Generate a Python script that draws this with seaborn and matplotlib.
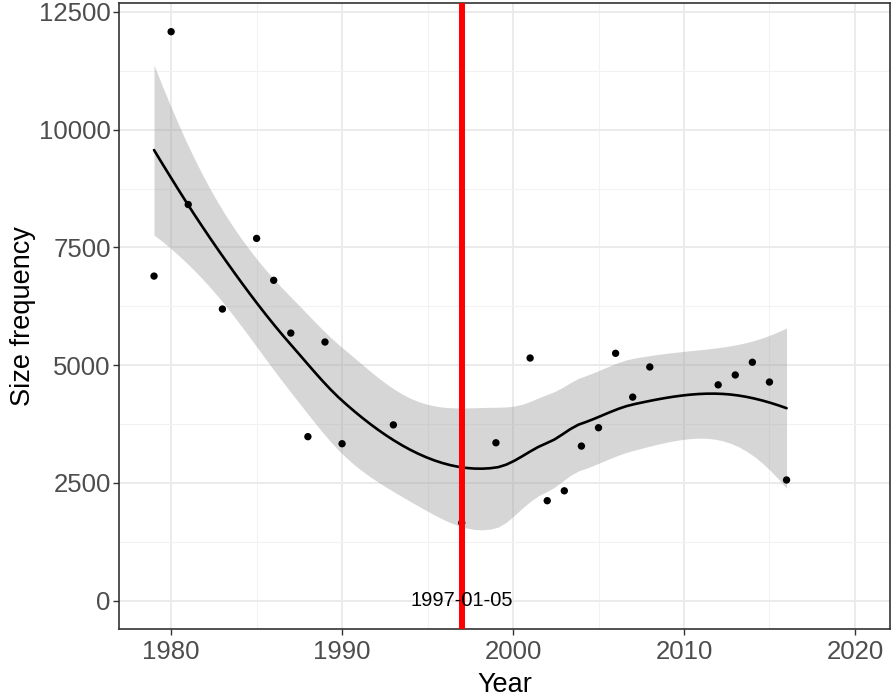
import numpy as np
import pandas as pd
import matplotlib
matplotlib.use("Agg")
import matplotlib.pyplot as plt
import seaborn as sns

# data
years = [1979, 1980, 1981, 1983, 1985, 1986, 1987, 1988, 1989, 1990, 1993, 1997,
         1999, 2001, 2002, 2003, 2004, 2005, 2006, 2007, 2008, 2012, 2013, 2014,
         2015, 2016]
size_freq = [6890, 12080, 8410, 6190, 7690, 6800, 5680, 3480, 5490, 3330, 3730, 1650,
             3350, 5150, 2120, 2330, 3280, 3670, 5250, 4320, 4960, 4580, 4790, 5060,
             4640, 2560]
event_year = 1997.0
event_label = "1997-01-05"
x_ticks = [1980, 1990, 2000, 2010, 2020]
y_ticks = [0, 2500, 5000, 7500, 10000, 12500]

df = pd.DataFrame({"Year": years, "Size frequency": size_freq})


# --- loess smoother (span .75, degree 2, kd-tree vertices + cubic interpolation, like R) ---
def local_rows(x, x0, span=0.75):
    n = len(x)
    q = int(np.floor(n * span))
    val, slope = [], []
    for xv in x0:
        d = np.abs(x - xv)
        h = np.sort(d)[q - 1]
        w = np.where(d < h, (1 - (d / h) ** 3) ** 3, 0.0)
        X = np.column_stack([np.ones(n), x - xv, (x - xv) ** 2])
        XtW = X.T * w
        B = np.linalg.solve(XtW @ X, XtW)
        val.append(B[0])
        slope.append(B[1])
    return np.array(val), np.array(slope)


def kd_vertices(xs, fc):
    xs = np.sort(xs)
    mu = 0.005 * (xs[-1] - xs[0])
    verts = [xs[0] - mu, xs[-1] + mu]

    def split(seg):
        if len(seg) <= fc:
            return
        m = (len(seg) + 1) // 2
        verts.append(seg[m - 1])
        split(seg[:m])
        split(seg[m:])

    split(xs)
    return np.array(sorted(set(verts)))


def interp_rows(v, V, S, x0):
    out = []
    for xv in x0:
        i = min(max(np.searchsorted(v, xv) - 1, 0), len(v) - 2)
        h = v[i + 1] - v[i]
        t = (xv - v[i]) / h
        h00 = 2 * t ** 3 - 3 * t ** 2 + 1
        h10 = t ** 3 - 2 * t ** 2 + t
        h01 = -2 * t ** 3 + 3 * t ** 2
        h11 = t ** 3 - t ** 2
        out.append(h00 * V[i] + h10 * h * S[i] + h01 * V[i + 1] + h11 * h * S[i + 1])
    return np.array(out)


x = df["Year"].to_numpy(float)
y = df["Size frequency"].to_numpy(float)
n = len(x)
verts = kd_vertices(x, int(np.floor(n * 0.75 * 0.2)))
V, S = local_rows(x, verts)
grid = np.linspace(x.min(), x.max(), 80)

L0 = interp_rows(verts, V, S, grid)
L = interp_rows(verts, V, S, x)
fit = L0 @ y
I_L = np.eye(n) - L
M = I_L.T @ I_L
d1 = np.trace(M)
d2 = np.trace(M @ M)
sigma2 = np.sum((y - L @ y) ** 2) / d1
se = np.sqrt(sigma2 * np.sum(L0 ** 2, axis=1))
dof = d1 ** 2 / d2
z = 1.959964
t = z + (z ** 3 + z) / (4 * dof) + (5 * z ** 5 + 16 * z ** 3 + 3 * z) / (96 * dof ** 2)
smooth = pd.DataFrame({"Year": grid, "fit": fit, "lo": fit - t * se, "hi": fit + t * se})

sns.set_theme(style="whitegrid", rc={
    "axes.edgecolor": "#333333",
    "grid.color": "#EBEBEB",
    "xtick.color": "#333333",
    "ytick.color": "#333333",
    "xtick.labelcolor": "#4D4D4D",
    "ytick.labelcolor": "#4D4D4D",
})
plt.rcParams["font.family"] = ["Liberation Sans", "DejaVu Sans"]

fig = plt.figure(figsize=(8.94, 6.98), dpi=100)
ax = fig.add_axes([0.1331, 0.0989, 0.8624, 0.8963])

ax.fill_between(smooth["Year"], smooth["lo"], smooth["hi"], color="#999999",
                alpha=0.4, linewidth=0, zorder=2)
sns.scatterplot(data=df, x="Year", y="Size frequency", color="black", s=28,
                edgecolor="none", ax=ax, zorder=3)
sns.lineplot(data=smooth, x="Year", y="fit", color="black", linewidth=1.9,
             ax=ax, zorder=4)
ax.axvline(event_year, color="#FF0000", linewidth=4.3, zorder=5)
ax.text(event_year, 0, event_label, ha="center", va="center", fontsize=14.5,
        color="black", zorder=6)

ax.set_xlim(1976.95, 2022.05)
ax.set_ylim(-604, 12682)
ax.set_xticks(x_ticks)
ax.set_yticks(y_ticks)
ax.set_xticks([1985, 1995, 2005, 2015], minor=True)
ax.set_yticks([1250, 3750, 6250, 8750, 11250], minor=True)
ax.grid(True, which="major", color="#EBEBEB", linewidth=1.4)
ax.grid(True, which="minor", color="#F2F2F2", linewidth=0.8)
ax.set_axisbelow(True)
ax.tick_params(axis="x", which="major", length=4, width=1, labelsize=18.5,
               direction="out", pad=4, bottom=True)
ax.tick_params(axis="y", which="major", length=4, width=1, labelsize=18.5,
               direction="out", pad=2, left=True)
ax.tick_params(axis="both", which="minor", length=0)
for s in ax.spines.values():
    s.set_linewidth(1.2)
    s.set_color("#333333")
ax.set_xlabel("Year", fontsize=19.5, color="black", labelpad=6)
ax.set_ylabel("Size frequency", fontsize=19.5, color="black", labelpad=2)

fig.savefig("out.png", dpi=100)
